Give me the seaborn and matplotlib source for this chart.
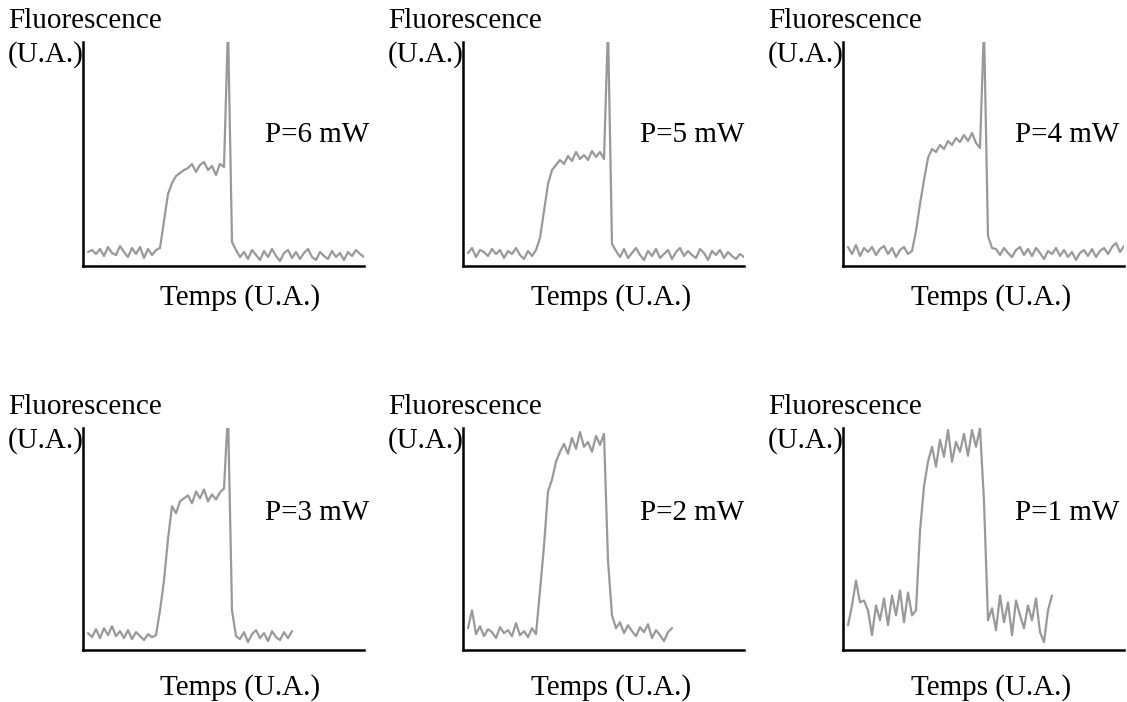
import numpy as np
import pandas as pd
import seaborn as sns
import matplotlib.pyplot as plt

# fluorescence traces (arbitrary units), one sample every step
labels = ["P=6 mW", "P=5 mW", "P=4 mW", "P=3 mW", "P=2 mW", "P=1 mW"]

p6 = [14, 16, 12, 17, 10, 19, 13, 11, 20, 14, 9, 18, 12, 19, 8, 17, 11, 16,
      18, 45, 72, 83, 90, 93, 96,
      98, 102, 94, 101, 104, 96, 100, 91, 102, 99,
      240, 24,
      16, 9, 14, 7, 16, 11, 6, 15, 9, 17, 10, 5, 13, 16, 8, 14, 7, 13, 17, 9,
      6, 14, 10, 7, 15, 9, 13, 6, 14, 10, 16, 12, 9]

p5 = [13, 18, 9, 16, 14, 10, 17, 12, 16, 8, 15, 12, 18, 11, 7, 15, 10, 16,
      28, 55, 82, 96, 101, 106, 102,
      110, 105, 114, 107, 111, 106, 115, 109, 114, 107,
      240, 22,
      15, 9, 17, 8, 13, 18, 11, 6, 15, 10, 17, 8, 12, 16, 7, 14, 18, 10, 15, 11,
      8, 17, 13, 6, 15, 11, 16, 8, 14, 10, 7, 12, 9]

p4 = [19, 12, 21, 10, 18, 14, 19, 11, 17, 20, 12, 18, 9, 16, 19, 12,
      15, 35, 62, 86, 108, 117, 114,
      121, 117, 125, 121, 128, 124, 131, 125, 133, 123, 118,
      240, 30, 18,
      17, 11, 18, 13, 9, 16, 19, 11, 17, 10, 18, 13, 7, 15, 12, 18, 10, 16, 9, 14,
      6, 13, 16, 10, 17, 9, 15, 18, 12, 19, 23, 14, 20]

p3 = [17, 13, 21, 12, 22, 15, 24, 14, 19, 12, 20, 11, 18, 14, 10, 16, 13,
      15, 40, 70, 112, 145, 138, 150,
      153, 156, 148, 160, 153, 162, 150, 157, 152, 159, 163,
      240, 40, 14,
      11, 18, 8, 16, 20, 12, 17, 9, 19, 13, 10, 18, 12, 19]

p2 = [22, 40, 16, 24, 14, 21, 18, 12, 23, 17, 20, 14, 27, 15, 19, 13, 22,
      16, 60, 105, 160, 172, 190, 200,
      208, 198, 214, 203, 220, 205, 210, 200, 216, 207, 218,
      90, 35,
      22, 28, 17, 25, 19, 14, 23, 18, 26, 12, 20, 15, 9, 18, 22]

p1 = [25, 45, 70, 48, 50, 40, 15, 45, 30, 52, 25, 55, 35, 60, 28, 58, 35,
      40, 120, 165, 190, 205, 185, 212,
      195, 222, 190, 210, 200, 218, 196, 222, 205, 224,
      150, 30,
      42, 20, 55, 28, 48, 15, 50, 35, 22, 45, 30, 52, 18, 8, 40, 55]

traces = [p6, p5, p4, p3, p2, p1]

W, H = 1127, 702
fig = plt.figure(figsize=(W / 100, H / 100), dpi=100)
sns.set_style("white")
plt.rcParams["font.family"] = ["Liberation Serif", "DejaVu Serif"]
plt.rcParams["text.color"] = "black"

col_left = [83, 463, 843]
row_bottom = [266, 650]
row_height = [224, 222]
ax_w = 281
temps_dx = [157, 148, 148]
power_dx = [182, 177, 172]

for k, (lab, y) in enumerate(zip(labels, traces)):
    r, c = divmod(k, 3)
    ax = fig.add_axes([col_left[c] / W, 1 - row_bottom[r] / H,
                       ax_w / W, row_height[r] / H])
    df = pd.DataFrame({"t": np.arange(len(y)), "f": y})
    sns.lineplot(data=df, x="t", y="f", ax=ax, color="#999999", linewidth=1.6)
    ax.set_xlim(-1.25, 69)
    ax.set_ylim(0, 224)
    ax.set_xticks([])
    ax.set_yticks([])
    ax.set_xlabel("")
    ax.set_ylabel("")
    sns.despine(ax=ax)
    for s in ["left", "bottom"]:
        ax.spines[s].set_linewidth(1.8)
        ax.spines[s].set_color("black")

    top = 0 if r == 0 else 386
    fig.text((col_left[c] - 75) / W, 1 - (top + 8) / H, "Fluorescence\n(U.A.)",
             fontsize=21, va="top", ha="left", linespacing=1.32)
    fig.text((col_left[c] + temps_dx[c]) / W, 1 - [298, 688][r] / H,
             "Temps (U.A.)", fontsize=21, va="center", ha="center")
    fig.text((col_left[c] + power_dx[c]) / W, 1 - [135, 513][r] / H,
             lab, fontsize=21, va="center", ha="left")

fig.savefig("out.png", dpi=100)
